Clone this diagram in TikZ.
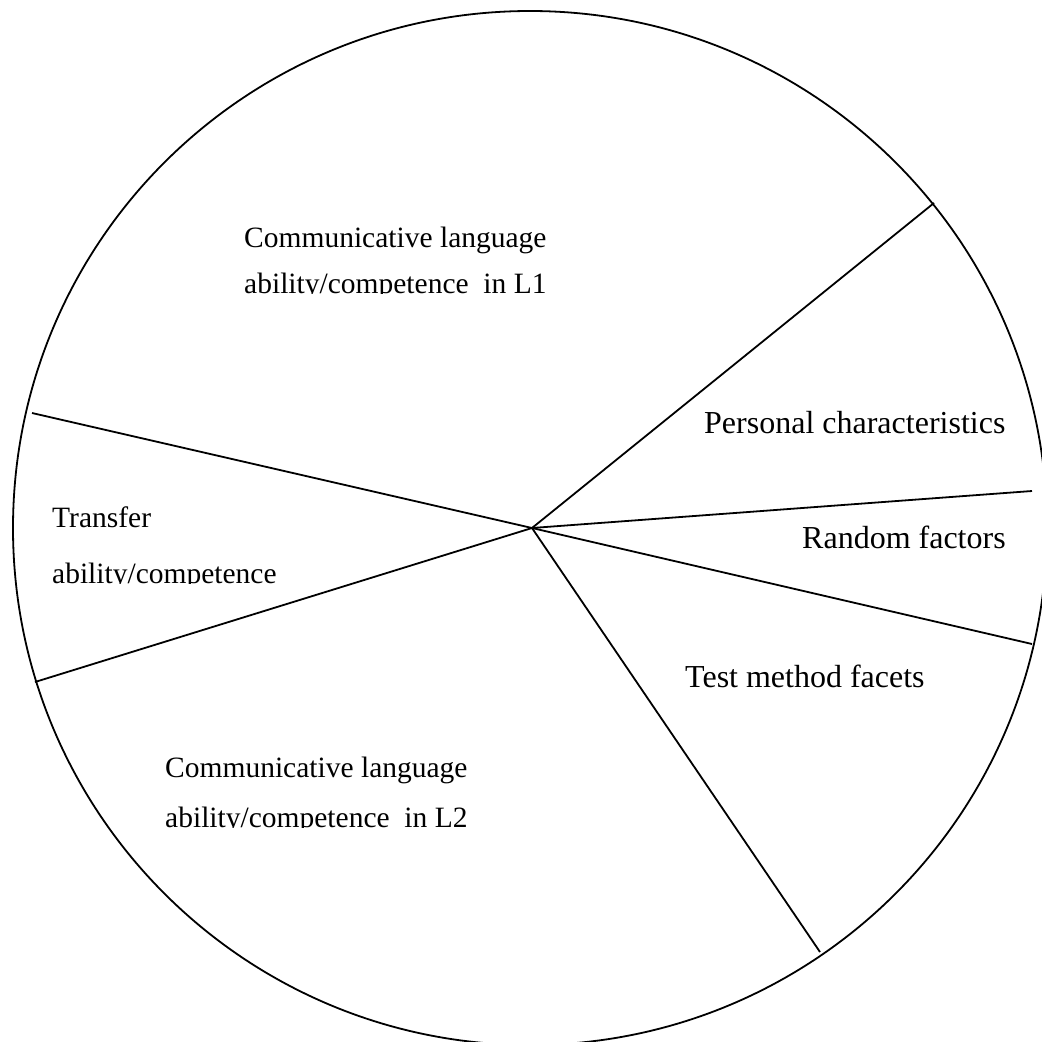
\documentclass[tikz,border=0pt]{standalone}
\usepackage{fontspec}
\setmainfont{Liberation Serif}
\begin{document}
\begin{tikzpicture}[x=1pt,y=-1pt,
  rim/.style={line width=1.8pt},
  spoke/.style={line width=1.8pt},
  lbl/.style={anchor=base west, inner sep=0pt, font=\fontsize{32}{38}\selectfont},
  lbls/.style={anchor=base west, inner sep=0pt, font=\fontsize{29.5}{35}\selectfont}]
  \useasboundingbox (0,0) rectangle (1042,1042);
  \clip (0,0) rectangle (1042,1042);
  \fill[white] (0,0) rectangle (1042,1042);

  % outer circle of the pie
  \draw[rim] (530,528) circle [radius=517pt];

  % hub and rim points of the dividing lines
  \coordinate (hub) at (532,528);
  \coordinate (pA) at (934,203);
  \coordinate (pB) at (1032,491);
  \coordinate (pC) at (1032,644);
  \coordinate (pD) at (820,952);
  \coordinate (pE) at (35,682);
  \coordinate (pF) at (32,413);

  \draw[spoke] (hub) -- (pA);
  \draw[spoke] (hub) -- (pB);
  \draw[spoke] (hub) -- (pC);
  \draw[spoke] (hub) -- (pD);
  \draw[spoke] (hub) -- (pE);
  \draw[spoke] (hub) -- (pF);

  % sector labels
  \node[lbls] (l1a) at (244,247) {Communicative language};
  \begin{scope}
    \clip (150,250) rectangle (620,293.5);
    \node[lbls] (l1b) at (244,293) {ability/competence\ \ in L1};
  \end{scope}

  \node[lbl] (pers) at (704,433) {Personal characteristics};
  \node[lbl] (rand) at (802,548) {Random factors};
  \node[lbl] (test) at (685,687) {Test method facets};

  \node[lbls] (tra) at (52,527) {Transfer};
  \begin{scope}
    \clip (20,540) rectangle (320,583.5);
    \node[lbls] (trb) at (52,583) {ability/competence};
  \end{scope}

  \node[lbls] (l2a) at (165,777) {Communicative language};
  \begin{scope}
    \clip (100,790) rectangle (560,827.5);
    \node[lbls] (l2b) at (165,827) {ability/competence\ \ in L2};
  \end{scope}
\end{tikzpicture}
\end{document}
